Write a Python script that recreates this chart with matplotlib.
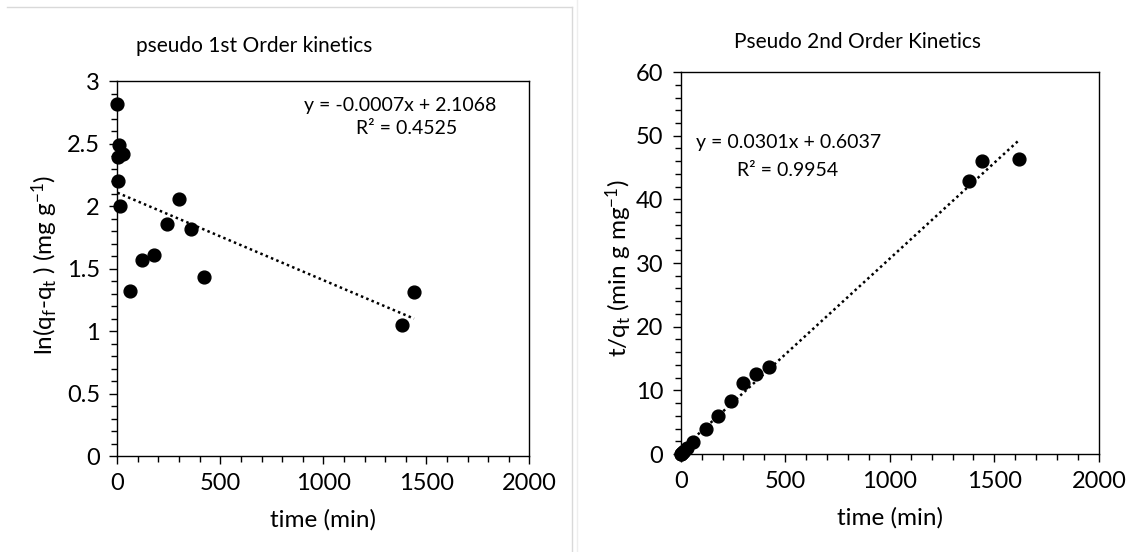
import numpy as np
import matplotlib
matplotlib.use("Agg")
from matplotlib import pyplot as plt
from matplotlib.ticker import MultipleLocator, FuncFormatter
from matplotlib.lines import Line2D


# --------------------------- DATA ---------------------------

time_1st = [1, 10, 5, 30, 2, 15, 60, 120, 180, 240, 300, 360, 420, 1380, 1440]
ln_qe_qt = [2.82, 2.49, 2.39, 2.42, 2.20, 2.00, 1.32, 1.57, 1.61, 1.86, 2.06, 1.82, 1.43, 1.05, 1.31]
slope_1st, intercept_1st, r2_1st = -0.0007, 2.1068, 0.4525

time_2nd = [1, 2, 5, 10, 15, 30, 60, 120, 180, 240, 300, 360, 420, 1380, 1440, 1620]
t_over_qt = [0.05, 0.08, 0.2, 0.35, 0.5, 1.0, 1.96, 4.0, 6.0, 8.4, 11.1, 12.5, 13.6, 42.9, 46.0, 46.3]
slope_2nd, intercept_2nd, r2_2nd = 0.0301, 0.6037, 0.9954


# --------------------------- STYLE ---------------------------

plt.rcParams['font.family'] = ['Lato', 'DejaVu Sans']
plt.rcParams['mathtext.default'] = 'regular'
TICK_FS = 17
LABEL_FS = 17.5
TITLE_FS = 15
EQ_FS = 14

fig = plt.figure(figsize=(11.45, 5.52), dpi=100)

# light gray panel frame lines (excel chart borders)
fig.add_artist(Line2D([7 / 1145, 572 / 1145], [1 - 7 / 552, 1 - 7 / 552], color='#d9d9d9', lw=1))
fig.add_artist(Line2D([572 / 1145, 572 / 1145], [0, 1 - 7 / 552], color='#d9d9d9', lw=1))
fig.add_artist(Line2D([577 / 1145, 577 / 1145], [0, 1], color='#eeeeee', lw=1))


def style_axes(ax, xminor, ymajor, yminor, ymax):
    ax.set_xlim(0, 2000)
    ax.set_ylim(0, ymax)
    ax.xaxis.set_major_locator(MultipleLocator(500))
    ax.xaxis.set_minor_locator(MultipleLocator(xminor))
    ax.yaxis.set_major_locator(MultipleLocator(ymajor))
    ax.yaxis.set_minor_locator(MultipleLocator(yminor))
    ax.yaxis.set_major_formatter(FuncFormatter(lambda v, p: f"{v:g}"))
    ax.tick_params(which='major', direction='out', length=5.5, width=1, labelsize=TICK_FS, pad=7)
    ax.tick_params(which='minor', direction='out', length=4, width=1)
    for s in ax.spines.values():
        s.set_linewidth(1)
        s.set_color('black')


# --------------------------- FIRST PLOT ---------------------------

ax1 = fig.add_axes([0.1024, 0.1739, 0.36, 0.6793])
style_axes(ax1, 100, 0.5, 0.1, 3)
ax1.scatter(time_1st, ln_qe_qt, s=85, color='black', zorder=3, clip_on=False)
xs = np.array([min(time_1st), max(time_1st)])
ax1.plot(xs, slope_1st * xs + intercept_1st, color='black', lw=1.8, linestyle=(0, (1, 1.3)))

fig.text(254 / 1145, 1 - 46 / 552, "pseudo 1st Order kinetics", ha='center', va='center', fontsize=TITLE_FS)
fig.text(400 / 1145, 1 - 105 / 552, f"y = {slope_1st:.4f}x + {intercept_1st:.4f}", ha='center', va='center', fontsize=EQ_FS)
fig.text(407 / 1145, 1 - 129 / 552, f"R² = {r2_1st:.4f}", ha='center', va='center', fontsize=EQ_FS)
fig.text(323 / 1145, 1 - 520 / 552, "time (min)", ha='center', va='center', fontsize=LABEL_FS)
fig.text(45 / 1145, 1 - 265 / 552, "ln(q$_f$-q$_t$ ) (mg g$^{-1}$)", ha='center', va='center',
         rotation=90, fontsize=LABEL_FS)


# --------------------------- SECOND PLOT ---------------------------

ax2 = fig.add_axes([0.5945, 0.1775, 0.3653, 0.692])
style_axes(ax2, 100, 10, 2, 60)
ax2.scatter(time_2nd, t_over_qt, s=85, color='black', zorder=3, clip_on=False)
xs = np.array([min(time_2nd), max(time_2nd)])
ax2.plot(xs, slope_2nd * xs + intercept_2nd, color='black', lw=1.8, linestyle=(0, (1, 1.3)))

fig.text(858 / 1145, 1 - 42 / 552, "Pseudo 2nd Order Kinetics", ha='center', va='center', fontsize=TITLE_FS)
fig.text(789 / 1145, 1 - 143 / 552, f"y = {slope_2nd:.4f}x + {intercept_2nd:.4f}", ha='center', va='center', fontsize=EQ_FS)
fig.text(788 / 1145, 1 - 171 / 552, f"R² = {r2_2nd:.4f}", ha='center', va='center', fontsize=EQ_FS)
fig.text(890 / 1145, 1 - 518 / 552, "time (min)", ha='center', va='center', fontsize=LABEL_FS)
fig.text(619 / 1145, 1 - 268 / 552, "t/q$_t$ (min g mg$^{-1}$)", ha='center', va='center',
         rotation=90, fontsize=LABEL_FS)


# --------------------------- SAVE ---------------------------

fig.savefig("out.png", dpi=100)
